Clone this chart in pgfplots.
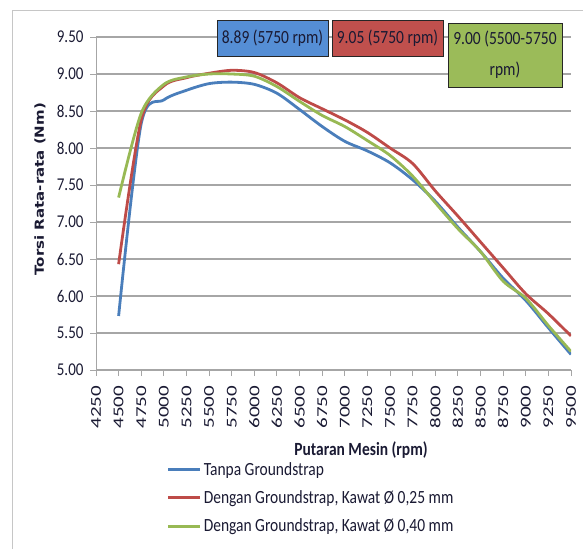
\documentclass[border=0pt]{standalone}
\usepackage{pgfplots}
\pgfplotsset{compat=1.18}
\usepackage{fontspec}
\usepackage{graphicx}
\setmainfont{Carlito}
\newfontfamily\dejavu{DejaVu Sans}

\definecolor{sblue}{HTML}{4A7EBB}
\definecolor{sred}{HTML}{BE4B48}
\definecolor{sgreen}{HTML}{98B954}
\definecolor{bblue}{HTML}{558ED5}
\definecolor{bred}{HTML}{C0504D}
\definecolor{bgreen}{HTML}{9BBB59}
\definecolor{gridc}{HTML}{A6A6A6}
\definecolor{txt}{HTML}{1A1A33}

\newcommand\st[1]{\scalebox{1}[1.2]{#1}}

\begin{document}
\begin{tikzpicture}
\path[use as bounding box] (0,0) rectangle (583pt,549pt);
\draw[gray!45, line width=1pt] (12pt,0pt) -- (12pt,538pt) -- (583pt,538pt);

\begin{axis}[
    at={(96pt,179pt)}, anchor=south west,
    scale only axis,
    width=475pt, height=333pt,
    xmin=4250, xmax=9500,
    ymin=5, ymax=9.5,
    xtick={4250,4500,...,9500},
    ytick={5,5.5,...,9.5},
    axis lines=left,
    axis line style={-, draw=gridc, line width=1pt},
    ymajorgrids,
    grid style={draw=gridc, line width=1.2pt},
    tick align=outside,
    major tick length=6pt,
    tick style={draw=gridc, line width=1pt},
    /pgf/number format/1000 sep={},
    /pgf/number format/assume math mode=true,
    yticklabel style={/pgf/number format/.cd, fixed, fixed zerofill, precision=2, /tikz/.cd,
        font=\fontsize{15}{15}\selectfont, yscale=1.2, text=txt, xshift=-3pt},
    xticklabel style={yshift=-5pt, rotate=90, anchor=east, xscale=1.4,
        font=\fontsize{15}{15}\selectfont, text=txt},
    xlabel={Putaran Mesin (rpm)},
    xlabel style={at={(axis description cs:0.558,-0.24)}, anchor=center,
        font=\fontsize{15.5}{15.5}\selectfont\bfseries, yscale=1.2, text=txt},
    ylabel={Torsi Rata-rata (Nm)},
    ylabel style={at={(axis description cs:-0.118,0.543)}, anchor=center, rotate=0,
        font=\dejavu\fontsize{12.5}{12.5}\selectfont\bfseries, xscale=1.2, text=txt},
    legend style={at={(axis description cs:0.149,-0.27)}, anchor=north west,
        draw=none, fill=none, font=\fontsize{15.5}{15.5}\selectfont, text=txt,
        row sep=10pt, inner sep=0pt},
    legend cell align=left,
    legend image code/.code={\draw[#1] (0pt,0pt) -- (32pt,0pt);},
    every axis plot/.append style={line width=2.8pt, smooth},
]
\addplot[sblue] coordinates {
(4500,5.73)(4750,8.33)(5000,8.65)(5250,8.78)(5500,8.87)(5750,8.89)(6000,8.86)
(6250,8.74)(6500,8.52)(6750,8.29)(7000,8.09)(7250,7.96)(7500,7.80)(7750,7.57)
(8000,7.28)(8250,6.93)(8500,6.60)(8750,6.24)(9000,5.94)(9250,5.57)(9500,5.21)};
\addlegendentry{\st{Tanpa Groundstrap}}
\addplot[sred] coordinates {
(4500,6.43)(4750,8.38)(5000,8.84)(5250,8.95)(5500,9.01)(5750,9.05)(6000,9.02)
(6250,8.88)(6500,8.68)(6750,8.53)(7000,8.38)(7250,8.21)(7500,8.00)(7750,7.79)
(8000,7.42)(8250,7.08)(8500,6.73)(8750,6.38)(9000,6.03)(9250,5.76)(9500,5.46)};
\addlegendentry{\st{Dengan Groundstrap, Kawat Ø 0,25 mm}}
\addplot[sgreen] coordinates {
(4500,7.33)(4750,8.47)(5000,8.86)(5250,8.96)(5500,9.00)(5750,9.00)(6000,8.97)
(6250,8.83)(6500,8.63)(6750,8.44)(7000,8.29)(7250,8.10)(7500,7.90)(7750,7.62)
(8000,7.26)(8250,6.91)(8500,6.60)(8750,6.20)(9000,5.97)(9250,5.60)(9500,5.25)};
\addlegendentry{\st{Dengan Groundstrap, Kawat Ø 0,40 mm}}
\end{axis}

\node[draw=black!85, line width=0.8pt, fill=bblue, minimum width=111pt, minimum height=36pt,
      inner sep=0pt, font=\fontsize{15.5}{15.5}\selectfont, text=txt]
      at (272.5pt,511pt) {\st{8.89 (5750 rpm)}};
\node[draw=black!85, line width=0.8pt, fill=bred, minimum width=111pt, minimum height=36pt,
      inner sep=0pt, font=\fontsize{15.5}{15.5}\selectfont, text=txt]
      at (387.5pt,511pt) {\st{9.05 (5750 rpm)}};
\node[draw=black!85, line width=0.8pt, fill=bgreen, minimum width=114pt, minimum height=64pt,
      inner sep=0pt, align=center, font=\fontsize{15.5}{31}\selectfont, text=txt]
      at (505pt,494pt) {\st{9.00 (5500-5750}\\\st{rpm)}};
\end{tikzpicture}
\end{document}
